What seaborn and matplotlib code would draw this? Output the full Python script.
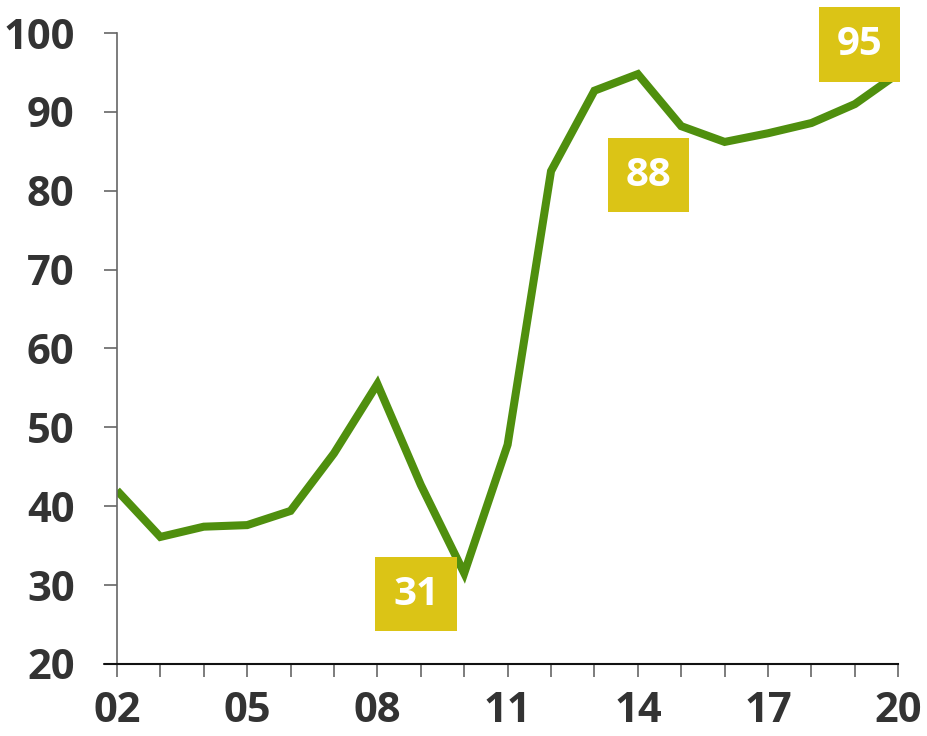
import pandas as pd
import matplotlib.pyplot as plt
import matplotlib.ticker as mticker
import seaborn as sns

# Values
years = list(range(2002, 2021))
values = [42.0, 36.1, 37.4, 37.6, 39.4, 46.7, 55.5, 42.7, 31.5, 47.8,
          82.5, 92.7, 94.8, 88.2, 86.2, 87.3, 88.6, 91.0, 94.9]

# Highlighted points: year, label text
label_years = [2010, 2015, 2020]
label_texts = ["31", "88", "95"]

line_color = "#4f8f0e"
box_color = "#dbc416"
text_color = "#333333"

df = pd.DataFrame({"year": years, "value": values})

sns.set_style("ticks")
plt.rcParams["font.family"] = ["Open Sans", "DejaVu Sans"]

fig = plt.figure(figsize=(9.28, 7.36), dpi=100)
ax = fig.add_axes([0.126, 0.098, 0.842, 0.857])

sns.lineplot(data=df, x="year", y="value", color=line_color, linewidth=5.8,
             ax=ax, solid_joinstyle="miter", solid_capstyle="butt")

ax.set_xlim(2002, 2020)
ax.set_ylim(20, 100)
ax.set_xlabel("")
ax.set_ylabel("")

ax.xaxis.set_major_locator(mticker.FixedLocator(range(2002, 2021, 3)))
ax.xaxis.set_minor_locator(mticker.FixedLocator(range(2002, 2021)))
ax.xaxis.set_major_formatter(mticker.FuncFormatter(lambda v, p: f"{int(v) % 100:02d}"))
ax.yaxis.set_major_locator(mticker.MultipleLocator(10))

for s in ["top", "right"]:
    ax.spines[s].set_visible(False)
ax.spines["left"].set_color("#666666")
ax.spines["left"].set_linewidth(1.2)
ax.spines["bottom"].set_color("#111111")
ax.spines["bottom"].set_linewidth(1.5)
# x axis line extends a little to the left of the y axis
ax.plot([-0.017, 0], [0, 0], transform=ax.transAxes, color="#111111",
        linewidth=1.5, clip_on=False)

ax.tick_params(axis="y", length=9.5, width=1.2, color="#666666", pad=21,
               labelsize=30, labelcolor=text_color)
ax.tick_params(axis="x", which="both", length=9.5, width=1.2, color="#666666",
               pad=10, labelsize=30, labelcolor=text_color)
for lbl in ax.get_xticklabels() + ax.get_yticklabels():
    lbl.set_fontweight("bold")

# Labelled boxes
offsets = [(-48, -21), (-33, -49), (-39, 29)]
for yr, txt, off in zip(label_years, label_texts, offsets):
    val = values[years.index(yr)]
    ax.annotate(txt, xy=(yr, val), xytext=off, textcoords="offset pixels",
                ha="center", va="center", fontsize=29, fontweight="bold",
                color="white", annotation_clip=False,
                bbox=dict(boxstyle="square,pad=0.44", facecolor=box_color,
                          edgecolor="none"))

fig.savefig("out.png", dpi=100)
